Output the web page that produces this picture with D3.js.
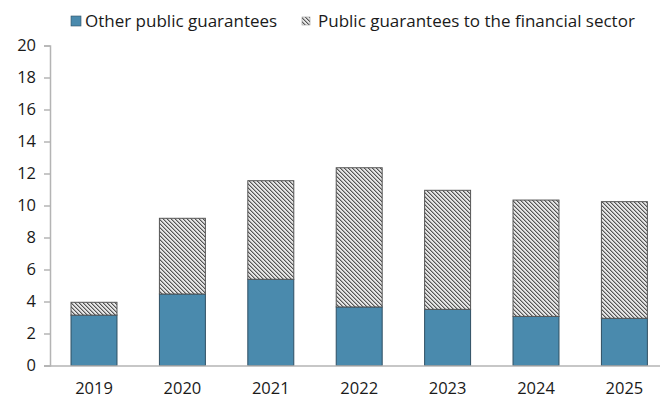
<!DOCTYPE html>
<html>
<head>
<meta charset="utf-8">
<script src="https://cdn.jsdelivr.net/npm/d3@7"></script>
<style>
  html, body { margin: 0; padding: 0; background: #fff; }
  svg { display: block; font-family: "Open Sans", "Noto Sans", sans-serif; }
</style>
</head>
<body>
<svg id="chart" width="662" height="399"></svg>
<script>
// Public guarantees, stacked by type
const years = ["2019", "2020", "2021", "2022", "2023", "2024", "2025"];
const otherGuarantees = [3.15, 4.47, 5.39, 3.66, 3.51, 3.07, 2.95];
const financialGuarantees = [0.8, 4.73, 6.16, 8.7, 7.44, 7.27, 7.29];
const yTicks = [0, 2, 4, 6, 8, 10, 12, 14, 16, 18, 20];
const seriesNames = ["Other public guarantees", "Public guarantees to the financial sector"];

const svg = d3.select("#chart");
const blue = "#4a8aad";

// diagonal hatch for the financial-sector series
const defs = svg.append("defs");
const pat = defs.append("pattern")
  .attr("id", "hatch")
  .attr("patternUnits", "userSpaceOnUse")
  .attr("width", 4).attr("height", 4);
pat.append("rect").attr("width", 4).attr("height", 4).attr("fill", "#e6e6e6");
[0, 1, 2, 3].forEach(i => {
  pat.append("rect").attr("x", i).attr("y", i).attr("width", 1).attr("height", 1).attr("fill", "#555");
  pat.append("rect").attr("x", (i + 1) % 4).attr("y", i).attr("width", 1).attr("height", 1).attr("fill", "#a8a8a8");
});

const x = d3.scaleBand().domain(years).range([49.8, 668.6]).paddingInner(0.48).paddingOuter(0.24);
const y = d3.scaleLinear().domain([0, 20]).range([365.5, 45.5]);

const rows = years.map((yr, i) => ({ year: yr, other: otherGuarantees[i], financial: financialGuarantees[i] }));
const stacked = d3.stack().keys(["other", "financial"])(rows);

// y axis
const yAxis = svg.append("g")
  .attr("transform", "translate(50,0)")
  .call(d3.axisLeft(y).tickValues(yTicks).tickSize(6).tickPadding(8).tickFormat(d3.format("d")));
yAxis.select(".domain").attr("stroke", "#b4b4b4").attr("stroke-width", 1.5);
yAxis.selectAll(".tick line").attr("stroke", "#b4b4b4").attr("stroke-width", 1.5);
yAxis.selectAll(".tick text").attr("font-size", 16.5).attr("fill", "#1a1a1a")
  .attr("font-family", "'Open Sans', 'Noto Sans', sans-serif");

// bars
const layers = svg.append("g").selectAll("g").data(stacked).join("g");
layers.selectAll("rect")
  .data(d => d.map(v => ({ key: d.key, v })))
  .join("rect")
  .attr("x", d => x(d.v.data.year))
  .attr("width", x.bandwidth())
  .attr("y", d => y(d.v[1]))
  .attr("height", d => y(d.v[0]) - y(d.v[1]))
  .attr("fill", d => d.key === "other" ? blue : "url(#hatch)")
  .attr("stroke", d => d.key === "other" ? "#2f4f63" : "#555")
  .attr("stroke-width", 1);

// x axis
const xAxis = svg.append("g")
  .attr("transform", "translate(0,366)")
  .call(d3.axisBottom(x).tickSize(0).tickPadding(16));
xAxis.select(".domain").remove();
svg.append("line")
  .attr("x1", 44).attr("x2", 660)
  .attr("y1", y(0) + 0.5).attr("y2", y(0) + 0.5)
  .attr("stroke", "#b4b4b4").attr("stroke-width", 1.5);
xAxis.selectAll(".tick text").attr("font-size", 16.5).attr("fill", "#1a1a1a")
  .attr("font-family", "'Open Sans', 'Noto Sans', sans-serif");

// legend
const legend = svg.append("g");
const items = [
  { name: seriesNames[0], sw: 71, size: 10, tx: 85, fill: blue, stroke: "#2f4f63" },
  { name: seriesNames[1], sw: 302, size: 8, tx: 318, fill: "url(#hatch)", stroke: "#999" }
];
items.forEach(it => {
  legend.append("rect")
    .attr("x", it.sw).attr("y", 21 - it.size / 2)
    .attr("width", it.size).attr("height", it.size)
    .attr("fill", it.fill).attr("stroke", it.stroke).attr("stroke-width", 0.6);
  legend.append("text")
    .attr("x", it.tx).attr("y", 27)
    .attr("font-size", 17).attr("fill", "#1a1a1a")
    .text(it.name);
});
</script>
</body>
</html>
